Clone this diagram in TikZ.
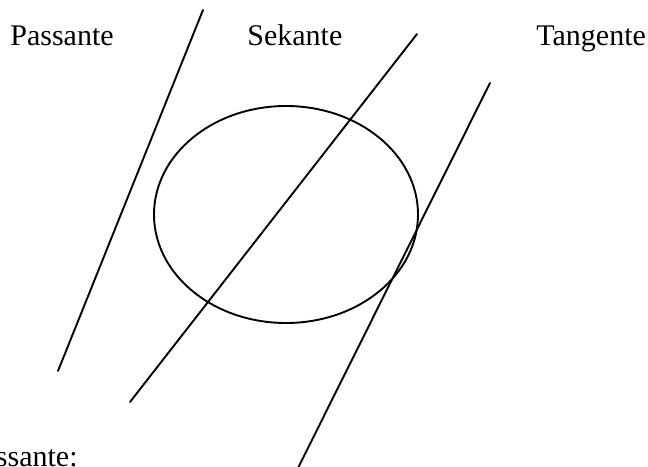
\documentclass[tikz,border=0pt]{standalone}
\usepackage{fontspec}
\setmainfont{Liberation Serif}
\tikzset{
  lbl/.style={anchor=base west, inner sep=0pt, font=\fontsize{15}{18}\selectfont},
  ln/.style={line width=0.95pt, line cap=round}
}
\begin{document}
\begin{tikzpicture}[x=0.5pt,y=-0.5pt]
\useasboundingbox (0,0) rectangle (648,466);
\node[lbl] (pass) at (10,46) {Passante};
\node[lbl] (sek) at (247,46) {Sekante};
\node[lbl] (tan) at (536,46) {Tangente};
\node[lbl, anchor=base east] (passb) at (78,466) {Passante:};
\coordinate (a1) at (203,10);
\coordinate (a2) at (58,371);
\coordinate (b1) at (417,34);
\coordinate (b2) at (130,402);
\coordinate (c1) at (490,83);
\coordinate (c2) at (298,468);
\draw[ln] (a1) -- (a2);
\draw[ln] (b1) -- (b2);
\draw[ln] (c1) -- (c2);
\draw[ln] (286,214.5) ellipse [x radius=66pt, y radius=54.25pt];
\end{tikzpicture}
\end{document}
